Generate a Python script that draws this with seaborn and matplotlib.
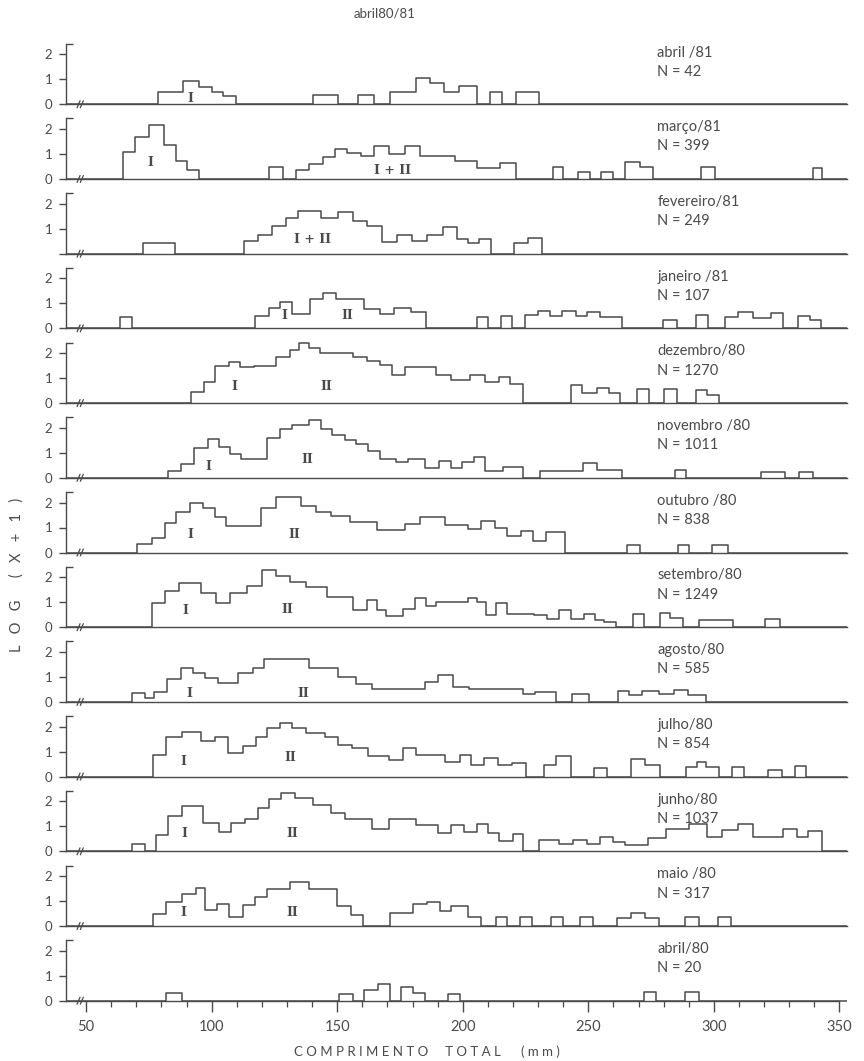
import numpy as np
import matplotlib
matplotlib.use("Agg")
import matplotlib.pyplot as plt
import seaborn as sns
from matplotlib.ticker import FixedLocator, MultipleLocator

sns.set_theme(style="white")
plt.rcParams["font.family"] = ["Lato", "DejaVu Sans"]

# ---------------------------------------------------------------
# Monthly length-frequency samples, log10(count + 1) per length class.
# Each month: class boundaries (mm) and class heights; 0 = empty gap.
# ---------------------------------------------------------------
MONTHS = ["abril /81", "março/81", "fevereiro/81", "janeiro /81",
          "dezembro/80", "novembro /80", "outubro /80", "setembro/80",
          "agosto/80", "julho/80", "junho/80", "maio /80", "abril/80"]
N_FISH = [42, 399, 249, 107, 1270, 1011, 838, 1249, 585, 854, 1037, 317, 20]

abr81_edges = [78.8, 88.6, 94.8, 100.3, 104.7, 109.5, 140.4, 150.3, 158.4, 164.6,
               171.2, 181.5, 187, 192.5, 198.6, 205.6, 210.7, 215.5, 221, 230.4]
abr81_heights = [.51, .93, .71, .49, .33, 0, .36, 0, .36, 0,
                 .51, 1.04, .84, .51, .73, 0, .51, 0, .51]

mar81_edges = [64.5, 69.5, 75, 81, 86, 90, 94.8, 122.9, 128.4,
               133.6, 138.7, 144.2, 149, 154, 159.5, 164.6, 170.5, 177.1, 183,
               196.8, 205.8, 215, 221, 235.9, 240.1, 245.8, 250.6, 255, 259.8,
               264.4, 270.4, 275.9, 295, 300.4, 339.5, 343.2]
mar81_heights = [1.07, 1.69, 2.16, 1.36, .73, .36, 0, .47, 0,
                 .37, .6, .89, 1.2, 1.03, .9, 1.31, 1.0, 1.31, .91, .71, .43, .64,
                 0, .47, 0, .27, 0, .27, 0, .69, .47, 0, .47, 0, .43]

fev81_edges = [72.8, 85.6, 113, 118.5, 124, 129.5, 134.3, 143.7, 150.3, 156.2,
               161.7, 167.9, 173.8, 179.9, 185.9, 192, 197.5, 201.9, 206.3, 211.1,
               220.3, 226, 231.5]
fev81_heights = [.42, 0, .49, .76, 1.12, 1.41, 1.7, 1.43, 1.65, 1.3, 1.1, .46,
                 .73, .51, .73, 1.07, .58, .42, .58, 0, .42, .61]

jan81_edges = [63.4, 68.4, 117.4, 122.7, 127.3, 132.1, 139.1, 144.2, 149.7, 160.6,
               167.2, 172.7, 179.3, 185.2, 205.6, 210, 215.1, 219.5, 224.7, 229.8,
               234.8, 239.6, 245.1, 249.5, 254.6, 263.4, 279.8, 285.3, 292.8, 297.8,
               304.4, 309.4, 315.4, 322.6, 327.5, 333.6, 338.4, 342.8]
jan81_heights = [.44, 0, .5, .82, 1.07, .57, 1.16, 1.43, 1.16, .78, .57, .82, .64,
                 0, .44, 0, .5, 0, .53, .68, .5, .68, .5, .67, .44, 0, .34, 0, .53,
                 0, .46, .67, .4, .6, 0, .5, .34]

dez80_edges = [91.9, 97, 101.4, 106.8, 111.2, 116.7, 125.5, 131, 134.9, 138.7,
               143, 156.2, 161.7, 167.2, 172, 177.1, 189.2, 195.3, 202.8, 208.9,
               214.4, 218.8, 223.8, 243, 247.3, 253.3, 258.3, 262.7, 269.3, 274.1,
               280.2, 285.3, 292.8, 297.4, 302.2]
dez80_heights = [.43, .83, 1.49, 1.64, 1.45, 1.48, 1.86, 2.14, 2.41, 2.21, 1.99,
                 1.86, 1.68, 1.53, 1.13, 1.46, 1.12, .93, 1.12, .86, 1.03, .76,
                 0, .72, .39, .59, .39, 0, .57, 0, .57, 0, .53, .34]

nov80_edges = [82.7, 87.8, 93, 98.7, 102.9, 107.5, 111.7, 122.2, 127.3, 132.1,
               138.7, 143.7, 147.9, 153, 157.3, 162.4, 167.2, 173.4, 178.2, 185,
               190.7, 195.3, 199.7, 204.5, 208.9, 216.2, 223.8, 230.9, 248, 253.3,
               263.4, 284.6, 289, 318.7, 328.5, 334, 339.5]
nov80_heights = [.29, .57, 1.18, 1.54, 1.25, .96, .76, 1.58, 1.97, 2.13, 2.3,
                 1.95, 1.71, 1.51, 1.34, 1.09, .76, .63, .76, .39, .68, .39, .63,
                 .82, .29, .42, 0, .29, .59, .33, 0, .33, 0, .25, 0, .25]

out80_edges = [70.2, 76.1, 81.6, 86, 91.5, 96.5, 101.4, 105.7, 119.6, 125.5,
               135.4, 141.5, 147.5, 155.1, 165.7, 177.1, 183, 193.1, 201.9, 207.4,
               212.9, 217.7, 223.2, 228, 233.1, 240.7, 265.5, 270.4, 285.7, 290.1,
               299.4, 305.5]
out80_heights = [.34, .58, 1.19, 1.64, 1.97, 1.77, 1.42, 1.05, 1.8, 2.24, 1.86,
                 1.64, 1.46, 1.22, .91, 1.15, 1.43, 1.12, .95, 1.28, .99, .65,
                 .88, .47, .81, 0, .31, 0, .31, 0, .31]

set80_edges = [76.1, 81.6, 87.1, 95.9, 101.8, 107.5, 114.1, 120, 125.5, 131,
               137.6, 146, 156.2, 161.7, 165.7, 169.4, 176, 180.8, 185.4, 189.2,
               201.9, 205.6, 209.4, 213.3, 217.7, 228.2, 233.7, 238.5, 242.9, 248.4,
               252.8, 256.1, 261.2, 267.7, 272.1, 278.7, 282.4, 287.5, 294.1, 307.7,
               320.4, 326.4]
set80_heights = [.95, 1.45, 1.76, 1.35, .95, 1.35, 1.65, 2.3, 2.05, 1.82, 1.62,
                 1.19, .7, 1.08, .68, .43, .74, 1.15, .84, .99, 1.15, .99, .47,
                 .97, .54, .47, .32, .7, .34, .54, .3, .2, 0, .54, 0, .58, .38, 0,
                 .3, 0, .34]

ago80_edges = [68.4, 73.3, 77.2, 82.3, 87.8, 92.6, 97.4, 102.5, 110.6, 116.3,
               120.7, 138.7, 150.3, 157.3, 163.9, 184.8, 190.3, 196.2, 202.3, 223.8,
               228.7, 237, 243.4, 250.2, 262, 266, 271.5, 278.1, 284, 289.7, 296.7]
ago80_heights = [.36, .15, .4, .93, 1.37, 1.16, .96, .76, 1.16, 1.37, 1.71, 1.37,
                 1.0, .73, .53, .8, 1.09, .6, .53, .33, .4, 0, .33, 0, .44, .27,
                 .44, .31, .49, .27]

jul80_edges = [76.6, 82, 88.2, 95.9, 101.4, 106.4, 112.3, 117.8, 122.2, 127.3,
               132.1, 137.6, 145.3, 150.3, 155.8, 162.4, 170.5, 176, 181.5, 193.1,
               199, 203.4, 208.5, 214, 219.5, 225, 232.4, 237, 243, 252.4, 257.6,
               267.1, 272.6, 278.7, 289, 293.4, 296.7, 302.2, 307.3, 312.1, 321.5,
               327, 332.3, 336.7]
jul80_heights = [.87, 1.57, 1.8, 1.43, 1.57, .93, 1.23, 1.57, 1.96, 2.16, 1.96,
                 1.73, 1.57, 1.27, 1.13, .83, .67, 1.16, .87, .6, .87, .47, .73,
                 .47, .53, 0, .47, .83, 0, .33, 0, .69, .47, 0, .37, .57, .4, 0,
                 .37, 0, .27, 0, .44]

jun80_edges = [68.4, 73.3, 77.9, 82.7, 88.2, 96.5, 103.1, 107.9, 113.4, 118.5,
               122.9, 127.7, 133.2, 140.4, 147.5, 153, 163.9, 170.5, 181.5, 190.3,
               195.3, 200.6, 205.6, 210, 214.4, 219.9, 223.8, 230.2, 238.5, 244,
               249.5, 254.6, 259.8, 264.4, 273.7, 280.9, 290.1, 297.1, 303.3, 309.4,
               315.4, 327.5, 332.9, 337.3, 343.2]
jun80_heights = [.31, 0, .65, 1.43, 1.82, 1.15, .76, 1.12, 1.3, 1.73, 2.11, 2.34,
                 2.14, 1.84, 1.53, 1.28, .88, 1.28, 1.05, .74, 1.05, .78, 1.08,
                 .72, .41, .69, 0, .47, .31, .47, .31, .58, .38, .24, .55, .88,
                 1.08, .58, .85, 1.08, .58, .88, .58, .82]

mai80_edges = [76.6, 82, 88.2, 93.7, 97.4, 102, 106.9, 112.3, 117.2, 122.2, 131,
               138.7, 150.1, 155.6, 160.2, 171.2, 180, 185.9, 191, 195.3, 201.9,
               207.2, 213.3, 217.7, 222.7, 227.6, 235.3, 240.1, 246.7, 251.7, 261.6,
               267.1, 272.6, 278.1, 288.4, 293.9, 301.8, 307]
mai80_heights = [.49, .96, 1.29, 1.51, .64, .87, .37, .83, 1.17, 1.49, 1.76, 1.47,
                 .8, .43, 0, .53, .87, .96, .6, .8, .37, 0, .37, 0, .37, 0, .37, 0,
                 .37, 0, .33, .53, .33, 0, .37, 0, .37]

abr80_edges = [81.7, 88, 150.8, 156.2, 160.6, 166.1, 170.9, 175.3, 180, 184.8,
               194.2, 199, 272.1, 277, 288.4, 294.1]
abr80_heights = [.32, 0, .25, 0, .43, .65, 0, .55, .32, 0, .25, 0, .36, 0, .36]

PANELS = [
    (abr81_edges, abr81_heights), (mar81_edges, mar81_heights),
    (fev81_edges, fev81_heights), (jan81_edges, jan81_heights),
    (dez80_edges, dez80_heights), (nov80_edges, nov80_heights),
    (out80_edges, out80_heights), (set80_edges, set80_heights),
    (ago80_edges, ago80_heights), (jul80_edges, jul80_heights),
    (jun80_edges, jun80_heights), (mai80_edges, mai80_heights),
    (abr80_edges, abr80_heights),
]

# Cohort marks (length mm, log value, label)
COHORTS = [
    [(91.5, .23, "I")],
    [(75.5, .67, "I"), (172, .35, "I + II")],
    [(140, .58, "I + II")],
    [(128.8, .5, "I"), (154, .53, "II")],
    [(109, .66, "I"), (145.5, .66, "II")],
    [(98.7, .46, "I"), (138, .72, "II")],
    [(91.5, .72, "I"), (132.8, .72, "II")],
    [(89.7, .68, "I"), (130.3, .72, "II")],
    [(91, .35, "I"), (136.5, .35, "II")],
    [(88.9, .62, "I"), (131.4, .78, "II")],
    [(89.3, .72, "I"), (132.1, .72, "II")],
    [(88.9, .53, "I"), (132.1, .53, "II")],
    [],
]

X_TICKS = [50, 100, 150, 200, 250, 300, 350]
Y_TICKS = [0, 1, 2]

# ---------------------------------------------------------------
INK = "#4a4a4a"
W, H = 864, 1061
X_MIN, X_MAX = 42.0, 353.0
Y_MIN, Y_MAX = -0.35, 2.64
AXIS_TOP = 2.42
AXIS_BREAK = 47.0
LABEL_X = 277.5
FIRST_BASE, STEP, UNIT = 104.3, 74.7, 25.0   # layout in pixels

fig = plt.figure(figsize=(W / 100, H / 100), dpi=100)
fig.patch.set_facecolor("white")

n_panels = len(PANELS)
for k, (edges, heights) in enumerate(PANELS):
    base = FIRST_BASE + k * STEP
    bottom = 1 - (base - Y_MIN * UNIT) / H
    ax = fig.add_axes([66 / W, bottom, 781 / W, (Y_MAX - Y_MIN) * UNIT / H])
    ax.set_facecolor("none")

    e = np.concatenate([[X_MIN], edges, [X_MAX]])
    h = np.concatenate([[0.0], heights, [0.0]])
    centers = (e[:-1] + e[1:]) / 2
    sns.histplot(x=centers, weights=h, bins=e.tolist(), element="step",
                 fill=False, color=INK, linewidth=1.1, ax=ax)

    ax.set_xlim(X_MIN, X_MAX)
    ax.set_ylim(Y_MIN, Y_MAX)
    ax.set_xlabel("")
    ax.set_ylabel("")

    for side in ("top", "right"):
        ax.spines[side].set_visible(False)
    ax.spines["left"].set_bounds(0, AXIS_TOP)
    ax.spines["bottom"].set_position(("data", 0))
    for side in ("left", "bottom"):
        ax.spines[side].set_color(INK)
        ax.spines[side].set_linewidth(1.0)

    ax.yaxis.set_major_locator(FixedLocator(Y_TICKS))
    labels = [str(t) for t in Y_TICKS]
    if MONTHS[k].startswith("fevereiro"):
        labels[0] = ""
    ax.set_yticklabels(labels)
    ax.yaxis.set_minor_locator(FixedLocator([AXIS_TOP]))
    ax.tick_params(axis="y", which="major", left=True, direction="out",
                   length=5, width=1.0, color=INK, labelcolor=INK,
                   labelsize=9.5, pad=5)
    ax.tick_params(axis="y", which="minor", left=True, direction="in",
                   length=5, width=1.0, color=INK)

    last = k == n_panels - 1
    if last:
        ax.spines["bottom"].set_bounds(X_MIN, X_TICKS[-1])
        ax.xaxis.set_major_locator(FixedLocator(X_TICKS))
        ax.xaxis.set_minor_locator(MultipleLocator(10))
        ax.tick_params(axis="x", which="major", bottom=True, direction="out",
                       length=8, width=1.0, color=INK, labelcolor=INK,
                       labelsize=10.5, pad=6)
        ax.tick_params(axis="x", which="minor", bottom=True, direction="out",
                       length=4, width=0.9, color=INK)
    else:
        ax.tick_params(axis="x", which="both", bottom=False, labelbottom=False)

    # broken-axis mark
    for dx in (0.0, 1.3):
        ax.plot([AXIS_BREAK + dx - 0.6, AXIS_BREAK + dx + 0.6], [-0.14, 0.14],
                color=INK, linewidth=0.9, clip_on=False)

    for x, y, s in COHORTS[k]:
        ax.text(x, y, s, ha="center", va="center", fontsize=9,
                family="DejaVu Serif", fontweight="bold", color=INK)

    ax.text(LABEL_X, 2.07, MONTHS[k], ha="left", va="center", fontsize=10.5,
            color=INK)
    ax.text(LABEL_X, 1.3, f"N = {N_FISH[k]}", ha="left", va="center",
            fontsize=10.5, color=INK)

fig.text(385 / W, 1 - 14 / H, "abril80/81", ha="center", va="center",
         fontsize=9.5, color=INK)
fig.text(427 / W, 1 - 1052 / H, "C O M P R I M E N T O     T O T A L      ( m m )",
         ha="center", va="center", fontsize=9.5, color=INK)
fig.text(17 / W, 1 - 575 / H, "L   O   G      (   X   +   1   )", ha="center",
         va="center", rotation=90, fontsize=10.5, color=INK)

fig.savefig("out.png", dpi=100, facecolor="white")
